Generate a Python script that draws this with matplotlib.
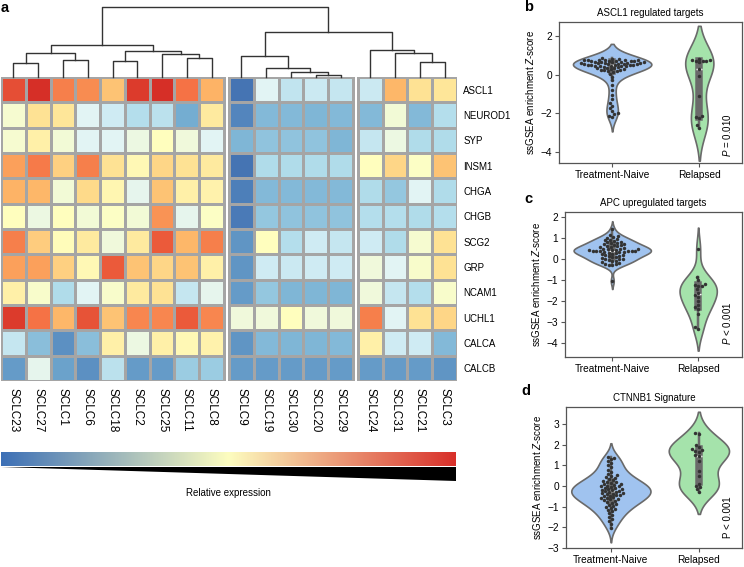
import numpy as np
import pandas as pd
import matplotlib
matplotlib.use('Agg')
import matplotlib.pyplot as plt
import seaborn as sns
from matplotlib.colors import LinearSegmentedColormap

plt.rcParams['font.family'] = ['Liberation Sans', 'DejaVu Sans']
plt.rcParams['mathtext.fontset'] = 'custom'
plt.rcParams['mathtext.rm'] = 'Liberation Sans'
plt.rcParams['mathtext.it'] = 'Liberation Sans:italic'

# ---------------- data ----------------
genes = ['ASCL1', 'NEUROD1', 'SYP', 'INSM1', 'CHGA', 'CHGB', 'SCG2', 'GRP',
         'NCAM1', 'UCHL1', 'CALCA', 'CALCB']
samples = ['SCLC23', 'SCLC27', 'SCLC1', 'SCLC6', 'SCLC18', 'SCLC2', 'SCLC25', 'SCLC11', 'SCLC8',
           'SCLC9', 'SCLC19', 'SCLC30', 'SCLC20', 'SCLC29',
           'SCLC24', 'SCLC31', 'SCLC21', 'SCLC3']
group_sizes = [9, 5, 4]
expression = [
    [0.85, 0.90, 0.77, 0.75, 0.66, 0.88, 0.90, 0.79, 0.69, 0.10, 0.41, 0.34, 0.36, 0.35, 0.36, 0.68, 0.59, 0.58],
    [0.47, 0.59, 0.58, 0.41, 0.37, 0.32, 0.33, 0.20, 0.57, 0.13, 0.23, 0.23, 0.22, 0.23, 0.23, 0.46, 0.23, 0.32],
    [0.47, 0.55, 0.46, 0.41, 0.41, 0.44, 0.50, 0.45, 0.41, 0.22, 0.25, 0.25, 0.25, 0.22, 0.35, 0.44, 0.31, 0.31],
    [0.72, 0.78, 0.63, 0.77, 0.59, 0.52, 0.62, 0.59, 0.57, 0.10, 0.31, 0.31, 0.31, 0.31, 0.50, 0.62, 0.49, 0.66],
    [0.69, 0.68, 0.46, 0.61, 0.53, 0.42, 0.66, 0.55, 0.54, 0.12, 0.23, 0.23, 0.23, 0.23, 0.31, 0.26, 0.41, 0.31],
    [0.50, 0.44, 0.50, 0.46, 0.49, 0.46, 0.74, 0.42, 0.49, 0.11, 0.26, 0.25, 0.25, 0.25, 0.32, 0.32, 0.31, 0.32],
    [0.77, 0.64, 0.51, 0.57, 0.45, 0.57, 0.83, 0.68, 0.77, 0.16, 0.50, 0.32, 0.37, 0.35, 0.37, 0.31, 0.47, 0.59],
    [0.72, 0.72, 0.63, 0.52, 0.83, 0.66, 0.62, 0.66, 0.55, 0.16, 0.37, 0.36, 0.37, 0.37, 0.45, 0.41, 0.48, 0.59],
    [0.55, 0.48, 0.31, 0.41, 0.48, 0.57, 0.59, 0.35, 0.42, 0.17, 0.26, 0.22, 0.22, 0.22, 0.45, 0.35, 0.32, 0.48],
    [0.88, 0.79, 0.68, 0.84, 0.66, 0.76, 0.76, 0.83, 0.76, 0.45, 0.45, 0.50, 0.45, 0.45, 0.77, 0.41, 0.59, 0.62],
    [0.35, 0.24, 0.15, 0.24, 0.55, 0.44, 0.55, 0.52, 0.54, 0.16, 0.23, 0.22, 0.22, 0.23, 0.55, 0.37, 0.37, 0.23],
    [0.17, 0.42, 0.18, 0.15, 0.33, 0.17, 0.17, 0.27, 0.27, 0.17, 0.17, 0.17, 0.17, 0.17, 0.17, 0.17, 0.17, 0.16],
]
# dendrogram merges: (child_a, child_b, height); leaves 0..17, clusters 18+
merges = [
    (12, 13, 1.5), (11, 18, 5), (10, 19, 9), (0, 1, 14), (16, 17, 15), (4, 5, 16),
    (2, 3, 17), (7, 8, 19), (9, 20, 21), (6, 25, 23), (21, 24, 24), (15, 22, 24),
    (23, 27, 26), (14, 29, 27), (28, 30, 32), (26, 31, 45), (32, 33, 70),
]

categories = ['Treatment-Naive', 'Relapsed']
ascl1_naive = [0.85, 0.82, 0.80, 0.78, 0.77, 0.76, 0.75, 0.74, 0.73, 0.72, 0.71, 0.70, 0.69,
               0.68, 0.67, 0.66, 0.65, 0.64, 0.63, 0.62, 0.61, 0.60, 0.59, 0.58, 0.57, 0.56,
               0.55, 0.54, 0.53, 0.52, 0.51, 0.50, 0.49, 0.48, 0.47, 0.46, 0.45, 0.44, 0.42,
               0.40, 0.38, 0.36, 0.34, 0.32, 0.30, 0.28, 0.26, 0.24, 0.22, 0.20, 0.18, 0.15,
               0.05, -0.10, -0.30, -0.55, -0.80, -1.05, -1.25, -1.45, -1.60, -1.75, -1.90,
               -2.00, -2.05, -2.12, -2.20]
ascl1_relapsed = [0.82, 0.78, 0.75, 0.72, 0.70, 0.68, 0.64, 0.30, -0.05, -1.10, -2.15, -2.20,
                  -2.25, -2.60, -2.75]
apc_naive = [1.42, 1.15, 1.10, 1.05, 1.00, 0.95, 0.92, 0.90, 0.85, 0.82, 0.80, 0.78, 0.75, 0.72,
             0.70, 0.68, 0.65, 0.62, 0.60, 0.58, 0.55, 0.52, 0.50, 0.50, 0.48, 0.46, 0.45, 0.43,
             0.42, 0.40, 0.40, 0.38, 0.38, 0.37, 0.36, 0.35, 0.34, 0.32, 0.30, 0.28, 0.25, 0.22,
             0.20, 0.18, 0.15, 0.12, 0.10, 0.08, 0.05, 0.02, 0.00, -0.02, -0.05, -0.08, -0.10,
             -0.15, -0.20, -0.22, -0.25, -0.28, -0.30, -1.05]
apc_relapsed = [0.48, -0.85, -1.00, -1.20, -1.25, -1.30, -1.30, -1.45, -1.60, -1.70, -1.80,
                -2.00, -2.20, -2.30, -2.40, -2.60, -3.25, -3.35]
ctnnb1_naive = [1.40, 1.35, 1.30, 1.20, 1.10, 1.00, 0.90, 0.80, 0.70, 0.60, 0.55, 0.50, 0.45,
                0.40, 0.35, 0.30, 0.25, 0.20, 0.18, 0.15, 0.10, 0.08, 0.05, 0.02, 0.00, -0.02,
                -0.05, -0.08, -0.10, -0.12, -0.15, -0.18, -0.20, -0.22, -0.25, -0.28, -0.30,
                -0.32, -0.35, -0.38, -0.40, -0.42, -0.45, -0.48, -0.50, -0.55, -0.58, -0.60,
                -0.62, -0.65, -0.68, -0.70, -0.75, -0.80, -0.85, -0.90, -0.95, -1.00, -1.05,
                -1.10, -1.15, -1.20, -1.30, -1.40, -1.50, -1.60, -1.70, -1.85, -2.05]
ctnnb1_relapsed = [2.55, 2.50, 2.00, 1.90, 1.80, 1.75, 1.70, 1.65, 1.50, 1.45, 1.20, 0.75, 0.50,
                   0.10, 0.00, -0.05, -0.15, -0.30]

# ---------------- figure ----------------
W, H = 744, 567
fig = plt.figure(figsize=(W / 100, H / 100), dpi=100)


def px_axes(x0, y0, x1, y1):
    return fig.add_axes([x0 / W, 1 - y1 / H, (x1 - x0) / W, (y1 - y0) / H])


expr = np.array(expression)
cmap = plt.get_cmap('RdYlBu_r')
gap = 0.2
starts = []
s = 0.0
for n in group_sizes:
    starts.append(s)
    s += n + gap
total = s - gap

ax_hm = px_axes(1, 77, 457, 381)
col_centers = []
c0 = 0
for g, n in enumerate(group_sizes):
    xe = starts[g] + np.arange(n + 1)
    ax_hm.pcolormesh(xe, np.arange(len(genes) + 1), expr[:, c0:c0 + n], cmap=cmap,
                     vmin=0, vmax=1, edgecolors='#a5a5a5', linewidth=0.9)
    col_centers += list(starts[g] + np.arange(n) + 0.5)
    c0 += n
ax_hm.set_xlim(0, total)
ax_hm.set_ylim(len(genes), 0)
for sp in ax_hm.spines.values():
    sp.set_visible(False)
ax_hm.set_xticks(col_centers)
ax_hm.set_xticklabels(samples, rotation=-90, fontsize=8.5)
ax_hm.tick_params(axis='x', length=0, pad=5)
ax_hm.yaxis.tick_right()
ax_hm.set_yticks(np.arange(len(genes)) + 0.5)
ax_hm.set_yticklabels(genes, fontsize=7)
ax_hm.tick_params(axis='y', length=0, pad=4.5)

# dendrogram
ax_d = px_axes(1, 7, 457, 77)
ax_d.set_xlim(0, total)
ax_d.set_ylim(0, 70)
ax_d.axis('off')
pos = {i: (col_centers[i], 0.0) for i in range(len(samples))}
for k, (a, b, h) in enumerate(merges):
    xa, ya = pos[a]
    xb, yb = pos[b]
    ax_d.plot([xa, xa, xb, xb], [ya, h, h, yb], color='#333333', lw=1.0, clip_on=False)
    pos[len(samples) + k] = ((xa + xb) / 2, h)

# colour bar and wedge
cb_cmap = LinearSegmentedColormap.from_list('cb', ['#3d70b6', '#fdfdc0', '#d8302a'])
ax_cb = px_axes(1, 452, 456, 466)
ax_cb.imshow(np.linspace(0, 1, 256)[None, :], aspect='auto', cmap=cb_cmap)
ax_cb.axis('off')
ax_w = px_axes(1, 467, 456, 481)
ax_w.fill([0, 1, 1], [1, 1, 0], color='black', lw=0)
ax_w.set_xlim(0, 1)
ax_w.set_ylim(0, 1)
ax_w.axis('off')
fig.text(228 / W, 1 - 493 / H, 'Relative expression', fontsize=7, ha='center', va='center')

fig.text(1 / W, 1 - 8 / H, 'a', fontsize=10.5, fontweight='bold', ha='left', va='center')

# violins
colors = ['#a0c3ef', '#a5e3ab']


def violin(box, naive, relapsed, title, ylim, yticks, xlim, ptext, pxy, letter, lxy):
    ax = px_axes(*box)
    df = pd.DataFrame({'group': [categories[0]] * len(naive) + [categories[1]] * len(relapsed),
                       'value': list(naive) + list(relapsed)})
    sns.violinplot(data=df, x='group', y='value', order=categories, hue='group',
                   hue_order=categories, palette=colors, legend=False, inner='box',
                   linewidth=1.2, linecolor='#6a6a6a', saturation=1, cut=2,
                   common_norm=True, width=0.9, ax=ax)
    sns.swarmplot(data=df, x='group', y='value', order=categories, color='#333333',
                  size=2.5, ax=ax)
    ax.set_xlim(*xlim)
    ax.set_ylim(*ylim)
    ax.set_yticks(yticks)
    ax.set_yticklabels([str(t).replace('-', '\u2212') for t in yticks])
    ax.set_xlabel('')
    ax.set_ylabel('ssGSEA enrichment $Z$-score', fontsize=7, labelpad=3)
    ax.set_title(title, fontsize=7, pad=4)
    ax.tick_params(labelsize=7.3, length=3, width=0.8, color='#555555', pad=2)
    for sp in ax.spines.values():
        sp.set_color('#555555')
        sp.set_linewidth(0.9)
    ax.text(pxy[0], pxy[1], ptext, transform=ax.transAxes, rotation=90, fontsize=7,
            ha='center', va='bottom')
    fig.text(lxy[0] / W, 1 - lxy[1] / H, letter, fontsize=10.5, fontweight='bold',
             ha='left', va='center')
    return ax


violin((559, 22, 742, 163), ascl1_naive, ascl1_relapsed, 'ASCL1 regulated targets',
       (-4.57, 2.72), [2, 0, -2, -4], (-0.61, 1.49), '$P$ = 0.010', (0.92, 0.04), 'b', (524, 7))
violin((565, 212, 742, 357), apc_naive, apc_relapsed, 'APC upregulated targets',
       (-4.67, 2.24), [2, 1, 0, -1, -2, -3, -4], (-0.55, 1.51), '$P$ < 0.001', (0.915, 0.08),
       'c', (524, 199))
violin((566, 407, 742, 548), ctnnb1_naive, ctnnb1_relapsed, 'CTNNB1 Signature',
       (-3, 3.83), [3, 2, 1, 0, -1, -2, -3], (-0.51, 1.49), 'P < 0.001', (0.92, 0.07),
       'd', (521, 391))

fig.savefig('out.png', dpi=100)
